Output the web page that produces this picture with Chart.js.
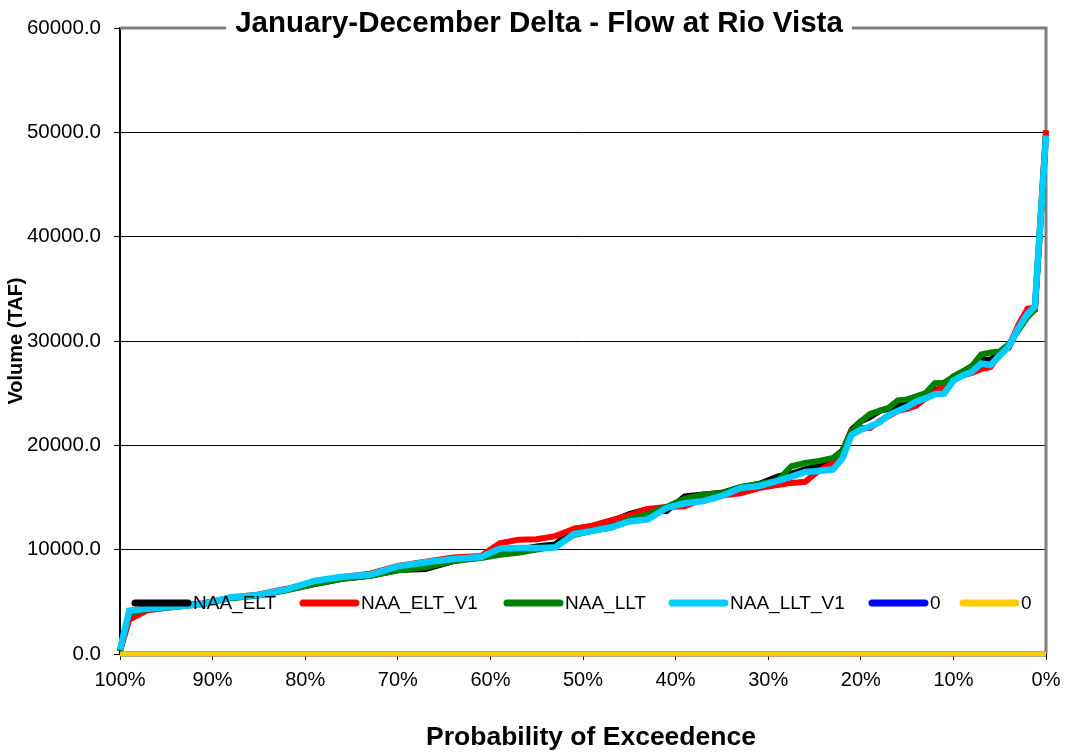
<!DOCTYPE html>
<html>
<head>
<meta charset="utf-8">
<script src="https://cdn.jsdelivr.net/npm/chart.js@4.4.0/dist/chart.umd.min.js"></script>
<style>
  body { margin: 0; background: #fff; }
  #chart { display: block; }
</style>
</head>
<body>
<canvas id="chart" width="1066" height="756"></canvas>
<script>
//probability of exceedence (%), shared by every series
var probability = [100, 99, 97, 94, 91, 88, 85, 82, 79, 76, 73, 70, 67, 64, 61, 59, 57, 55, 53, 51,
    49, 47, 45, 43, 41, 39, 37, 35, 33, 31, 29, 27.5, 26, 24.5, 23, 22, 21, 20, 19, 18,
    17, 16, 15, 14, 13, 12, 11, 10, 9, 8, 7, 6, 5, 4, 3, 2, 1.2, 0];

//volume (TAF)
var naa_elt = [300, 4000, 4400, 4600, 4850, 5400, 5650, 6150, 6700, 7200, 7500, 8050, 8150, 8900, 9300, 9800, 10000, 10300, 10500, 12000,
    12250, 12700, 13400, 13900, 13700, 15100, 15300, 15450, 16000, 16300, 17000, 17300, 17700, 18000, 18300, 19300, 21500, 22300, 22700, 23300,
    23500, 23800, 24100, 24400, 24700, 25300, 25500, 26600, 27000, 27600, 28200, 28200, 28900, 29400, 31300, 32500, 33000, 49800];
var naa_elt_v1 = [300, 3300, 4200, 4550, 4850, 5400, 5700, 6250, 6900, 7350, 7700, 8450, 8850, 9250, 9400, 10600, 10950, 11000, 11300, 12000,
    12300, 12800, 13300, 13900, 14100, 14150, 14900, 15200, 15400, 15900, 16200, 16400, 16500, 17600, 18300, 19500, 21400, 21650, 21650, 22300,
    22800, 23300, 23500, 23800, 24500, 25100, 25600, 26400, 26700, 26950, 27300, 27500, 28800, 29500, 31500, 33100, 33200, 50200];
var naa_llt = [300, 3900, 4300, 4500, 4800, 5350, 5600, 6100, 6700, 7200, 7500, 8000, 8300, 8900, 9200, 9500, 9700, 10000, 10300, 11400,
    11800, 12100, 12900, 13400, 14100, 14900, 15300, 15400, 16000, 16300, 16600, 18000, 18300, 18500, 18800, 19500, 21300, 22300, 23000, 23300,
    23600, 24300, 24400, 24700, 25000, 25950, 26000, 26600, 27100, 27600, 28700, 28900, 29000, 29700, 31000, 32300, 33000, 49700];
var naa_llt_v1 = [400, 4150, 4350, 4550, 4800, 5450, 5650, 6200, 7000, 7400, 7600, 8400, 8800, 9100, 9300, 10100, 10150, 10150, 10200, 11500,
    11800, 12150, 12700, 12900, 14000, 14450, 14650, 15150, 15900, 16100, 16600, 17000, 17450, 17550, 17700, 18700, 21000, 21500, 21800, 22200,
    22900, 23300, 23700, 24200, 24500, 24900, 24950, 26200, 26700, 27050, 27850, 27700, 28600, 29500, 31200, 32600, 33300, 49700];
//the two empty series sit on zero
var zero_a = [0, 0];
var zero_b = [0, 0];
var zero_prob = [100, 0];

var seriesNames = ['NAA_ELT', 'NAA_ELT_V1', 'NAA_LLT', 'NAA_LLT_V1', '0', '0'];
var seriesColors = ['#000000', '#FF0000', '#008000', '#00CCFF', '#0000FF', '#FFCC00'];

var yTicks = [0, 10000, 20000, 30000, 40000, 50000, 60000];

var FONT = "'Liberation Sans', Arial, sans-serif";

//pair up x and y values for chart.js
function toPoints(xs, ys)
{
    return ys.map(function(v, i){ return {x: xs[i], y: v}; });
}

function makeSet(idx, xs, ys, order, width)
{
    return {
        label: seriesNames[idx],
        data: toPoints(xs, ys),
        borderColor: seriesColors[idx],
        backgroundColor: seriesColors[idx],
        borderWidth: width,
        pointRadius: 0,
        tension: 0,
        clip: false,
        order: order
    };
}

//gray frame on top and right of the plot
var framePlugin = {
    id: 'frame',
    beforeDatasetsDraw: function(chart){
        var a = chart.chartArea, ctx = chart.ctx;
        ctx.save();
        ctx.strokeStyle = '#808080';
        ctx.lineWidth = 3;
        ctx.beginPath();
        ctx.moveTo(a.left, a.top);
        ctx.lineTo(a.right, a.top);
        ctx.lineTo(a.right, a.bottom);
        ctx.stroke();
        ctx.restore();
    }
};

//legend sits inside the plot like the excel one
var legendX = [135, 303, 507, 672, 872, 963];
var legendPlugin = {
    id: 'innerLegend',
    afterDatasetsDraw: function(chart){
        var ctx = chart.ctx;
        var y = 603;
        ctx.save();
        ctx.font = '19px ' + FONT;
        ctx.textBaseline = 'middle';
        ctx.lineCap = 'round';
        chart.data.datasets.forEach(function(ds, i){
            ctx.strokeStyle = ds.borderColor;
            ctx.lineWidth = 7;
            ctx.beginPath();
            ctx.moveTo(legendX[i], y);
            ctx.lineTo(legendX[i] + 53, y);
            ctx.stroke();
            ctx.fillStyle = '#000';
            ctx.fillText(ds.label, legendX[i] + 58, y + 1);
        });
        ctx.restore();
    }
};

//title drawn over the top frame line with a white box behind,
//plus the x axis title which sits a bit right of centre
var titlePlugin = {
    id: 'boxTitle',
    afterDraw: function(chart){
        var ctx = chart.ctx;
        var text = 'January-December Delta - Flow at Rio Vista';
        ctx.save();
        ctx.font = 'bold 29.5px ' + FONT;
        var w = ctx.measureText(text).width;
        var cx = 539;
        ctx.fillStyle = '#fff';
        ctx.fillRect(cx - w / 2 - 9, 5, w + 18, 32);
        ctx.fillStyle = '#000';
        ctx.textAlign = 'center';
        ctx.textBaseline = 'alphabetic';
        ctx.fillText(text, cx, 32);

        ctx.font = 'bold 26.5px ' + FONT;
        ctx.textBaseline = 'middle';
        ctx.fillText('Probability of Exceedence', 591, 738);
        ctx.restore();
    }
};

new Chart(document.getElementById('chart'), {
    type: 'line',
    data: {
        datasets: [
            makeSet(0, probability, naa_elt, 6, 6),
            makeSet(1, probability, naa_elt_v1, 5, 6),
            makeSet(2, probability, naa_llt, 4, 6),
            makeSet(3, probability, naa_llt_v1, 3, 6.5),
            makeSet(4, zero_prob, zero_a, 2, 5),
            makeSet(5, zero_prob, zero_b, 1, 5)
        ]
    },
    options: {
        responsive: false,
        devicePixelRatio: 1,
        animation: false,
        layout: { padding: { left: 0, right: 20, top: 28, bottom: 0 } },
        plugins: {
            legend: { display: false },
            tooltip: { enabled: false }
        },
        scales: {
            x: {
                type: 'linear',
                reverse: true,
                min: 0,
                max: 100,
                ticks: {
                    stepSize: 10,
                    color: '#000',
                    font: { family: FONT, size: 20 },
                    padding: 8,
                    maxRotation: 0,
                    callback: function(v){ return v + '%'; }
                },
                grid: { drawOnChartArea: false, tickLength: 6, tickColor: '#000', color: '#000' },
                border: { display: true, color: '#000', width: 1 },
                afterFit: function(scale){
                    scale.height = 102;
                    //keep the end labels from pushing the plot edges in
                    scale.paddingLeft = 0;
                    scale.paddingRight = 0;
                }
            },
            y: {
                min: 0,
                max: 60000,
                afterBuildTicks: function(scale){
                    scale.ticks = yTicks.map(function(v){ return {value: v}; });
                },
                ticks: {
                    color: '#000',
                    font: { family: FONT, size: 20.5 },
                    padding: 13,
                    callback: function(v){ return v.toFixed(1); }
                },
                grid: {
                    tickLength: 6,
                    tickColor: '#000',
                    lineWidth: 1,
                    color: function(c){
                        return (c.tick && c.tick.value === 60000) ? 'rgba(0,0,0,0)' : '#000';
                    }
                },
                border: { display: true, color: '#000', width: 2 },
                title: {
                    display: true,
                    text: 'Volume (TAF)',
                    color: '#000',
                    font: { family: FONT, size: 20, weight: 'bold' }
                },
                afterFit: function(scale){ scale.width = 120; }
            }
        }
    },
    plugins: [framePlugin, legendPlugin, titlePlugin]
});
</script>
</body>
</html>
